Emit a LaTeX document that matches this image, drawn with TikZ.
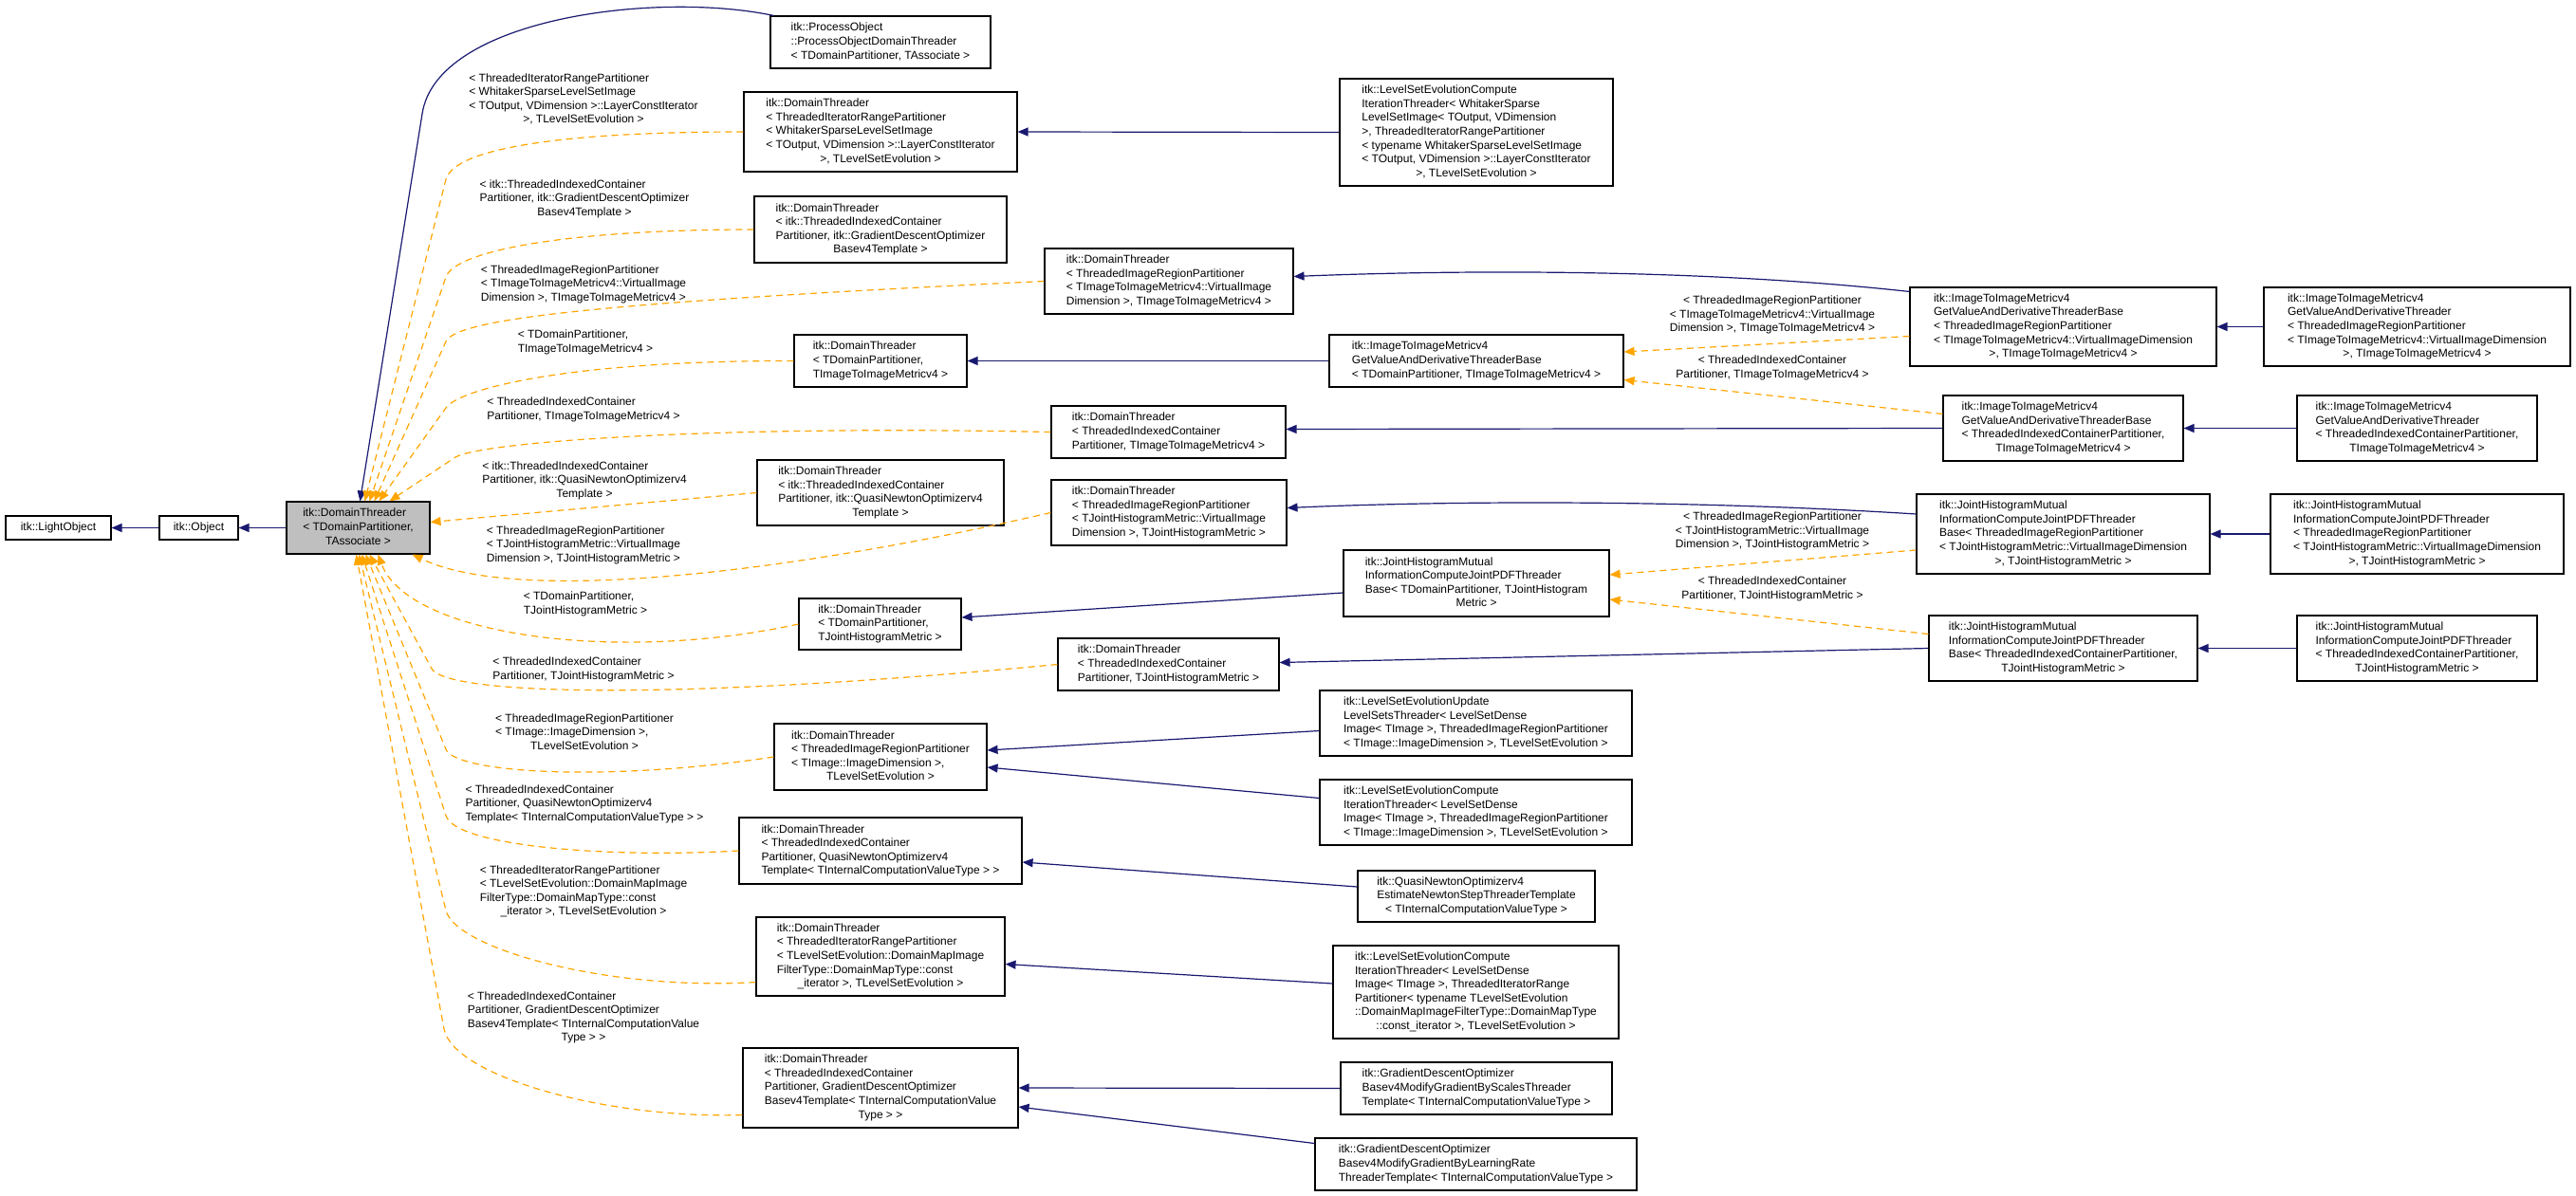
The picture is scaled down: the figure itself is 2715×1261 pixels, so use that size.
\documentclass[tikz,border=0pt]{standalone}
\usepackage{fontspec}
\setmainfont{Liberation Sans}
\usetikzlibrary{arrows.meta,calc}
\definecolor{navy}{RGB}{25,25,112}
\definecolor{orng}{RGB}{255,165,0}
\definecolor{dtgray}{RGB}{191,191,191}
\newcommand\txtb[1]{\begin{tabular}{@{}l@{}}#1\end{tabular}}
\newcommand\cln[1]{\multicolumn{1}{@{}c@{}}{#1}}
\newcommand\bx[7][]{%
  \pgfmathsetmacro\bxw{#5-#3}\pgfmathsetmacro\bxh{#6-#4}%
  \pgfmathsetmacro\bxx{(#3+#5)/2}\pgfmathsetmacro\bxy{(#4+#6)/2}%
  \node[box,#1,minimum width=\bxw pt,minimum height=\bxh pt] (#2) at (\bxx,\bxy) {\txtb{#7}};}
\begin{document}
\begin{tikzpicture}[x=1pt,y=-1pt,
  every node/.style={font=\fontsize{12}{14.6}\selectfont},
  box/.style={draw=black,line width=1.1pt,fill=white,inner sep=0pt,rectangle},
  lab/.style={inner sep=0pt},
  inh/.style={draw=navy,line width=1.2pt,-{Triangle[length=11pt,width=9pt]}},
  tpl/.style={draw=orng,line width=1.2pt,dash pattern=on 7pt off 5pt,-{Triangle[length=11pt,width=9pt]}}]
\useasboundingbox (0,0) rectangle (2715,1261);
% nodes
\bx{lo}{6}{544}{117}{569}{itk::LightObject}
\bx{ob}{168}{544}{251}{569}{itk::Object}
\bx[fill=dtgray]{dt}{302}{529}{453}{584}{itk::DomainThreader\\< TDomainPartitioner,\\\cln{TAssociate >}}
\bx{po}{812}{17}{1044}{72}{itk::ProcessObject\\::ProcessObjectDomainThreader\\< TDomainPartitioner, TAssociate >}
\bx{b1}{784}{97}{1072}{181}{itk::DomainThreader\\< ThreadedIteratorRangePartitioner\\< WhitakerSparseLevelSetImage\\< TOutput, VDimension >::LayerConstIterator\\\cln{>, TLevelSetEvolution >}}
\bx{b2}{795}{207}{1061}{277}{itk::DomainThreader\\< itk::ThreadedIndexedContainer\\Partitioner, itk::GradientDescentOptimizer\\\cln{Basev4Template >}}
\bx{b3}{1101}{262}{1363}{331}{itk::DomainThreader\\< ThreadedImageRegionPartitioner\\< TImageToImageMetricv4::VirtualImage\\Dimension >, TImageToImageMetricv4 >}
\bx{b4}{837}{353}{1019}{408}{itk::DomainThreader\\< TDomainPartitioner,\\\cln{TImageToImageMetricv4 >}}
\bx{b5}{1108}{428}{1355}{483}{itk::DomainThreader\\< ThreadedIndexedContainer\\Partitioner, TImageToImageMetricv4 >}
\bx{b6}{798}{485}{1058}{554}{itk::DomainThreader\\< itk::ThreadedIndexedContainer\\Partitioner, itk::QuasiNewtonOptimizerv4\\\cln{Template >}}
\bx{b7}{1108}{506}{1356}{575}{itk::DomainThreader\\< ThreadedImageRegionPartitioner\\< TJointHistogramMetric::VirtualImage\\Dimension >, TJointHistogramMetric >}
\bx{b8}{842}{631}{1013}{685}{itk::DomainThreader\\< TDomainPartitioner,\\\cln{TJointHistogramMetric >}}
\bx{b9}{1115}{673}{1348}{728}{itk::DomainThreader\\< ThreadedIndexedContainer\\Partitioner, TJointHistogramMetric >}
\bx{b10}{816}{763}{1040}{833}{itk::DomainThreader\\< ThreadedImageRegionPartitioner\\< TImage::ImageDimension >,\\\cln{TLevelSetEvolution >}}
\bx{b11}{779}{862}{1077}{932}{itk::DomainThreader\\< ThreadedIndexedContainer\\Partitioner, QuasiNewtonOptimizerv4\\Template< TInternalComputationValueType > >}
\bx{b12}{797}{967}{1059}{1050}{itk::DomainThreader\\< ThreadedIteratorRangePartitioner\\< TLevelSetEvolution::DomainMapImage\\FilterType::DomainMapType::const\\\cln{\_iterator >, TLevelSetEvolution >}}
\bx{b13}{783}{1105}{1073}{1189}{itk::DomainThreader\\< ThreadedIndexedContainer\\Partitioner, GradientDescentOptimizer\\Basev4Template< TInternalComputationValue\\\cln{Type > >}}
\bx{w}{1412}{83}{1700}{196}{itk::LevelSetEvolutionCompute\\IterationThreader< WhitakerSparse\\LevelSetImage< TOutput, VDimension\\ >, ThreadedIteratorRangePartitioner\\< typename WhitakerSparseLevelSetImage\\< TOutput, VDimension >::LayerConstIterator\\\cln{>, TLevelSetEvolution >}}
\bx{itb1}{1401}{353}{1711}{408}{itk::ImageToImageMetricv4\\GetValueAndDerivativeThreaderBase\\< TDomainPartitioner, TImageToImageMetricv4 >}
\bx{jb1}{1416}{580}{1696}{650}{itk::JointHistogramMutual\\InformationComputeJointPDFThreader\\Base< TDomainPartitioner, TJointHistogram\\\cln{Metric >}}
\bx{lu}{1391}{728}{1720}{797}{itk::LevelSetEvolutionUpdate\\LevelSetsThreader< LevelSetDense\\Image< TImage >, ThreadedImageRegionPartitioner\\< TImage::ImageDimension >, TLevelSetEvolution >}
\bx{lc}{1391}{822}{1720}{891}{itk::LevelSetEvolutionCompute\\IterationThreader< LevelSetDense\\Image< TImage >, ThreadedImageRegionPartitioner\\< TImage::ImageDimension >, TLevelSetEvolution >}
\bx{qn}{1431}{918}{1681}{972}{itk::QuasiNewtonOptimizerv4\\EstimateNewtonStepThreaderTemplate\\\cln{< TInternalComputationValueType >}}
\bx{lr}{1405}{997}{1706}{1095}{itk::LevelSetEvolutionCompute\\IterationThreader< LevelSetDense\\Image< TImage >, ThreadedIteratorRange\\Partitioner< typename TLevelSetEvolution\\::DomainMapImageFilterType::DomainMapType\\\cln{::const\_iterator >, TLevelSetEvolution >}}
\bx{gs}{1413}{1120}{1699}{1175}{itk::GradientDescentOptimizer\\Basev4ModifyGradientByScalesThreader\\Template< TInternalComputationValueType >}
\bx{gl}{1386}{1200}{1725}{1255}{itk::GradientDescentOptimizer\\Basev4ModifyGradientByLearningRate\\ThreaderTemplate< TInternalComputationValueType >}
\bx{itb2}{2013}{303}{2336}{386}{itk::ImageToImageMetricv4\\GetValueAndDerivativeThreaderBase\\< ThreadedImageRegionPartitioner\\< TImageToImageMetricv4::VirtualImageDimension\\\cln{>, TImageToImageMetricv4 >}}
\bx{itt2}{2386}{303}{2709}{386}{itk::ImageToImageMetricv4\\GetValueAndDerivativeThreader\\< ThreadedImageRegionPartitioner\\< TImageToImageMetricv4::VirtualImageDimension\\\cln{>, TImageToImageMetricv4 >}}
\bx{itb3}{2048}{417}{2301}{486}{itk::ImageToImageMetricv4\\GetValueAndDerivativeThreaderBase\\< ThreadedIndexedContainerPartitioner,\\\cln{TImageToImageMetricv4 >}}
\bx{itt3}{2421}{417}{2674}{486}{itk::ImageToImageMetricv4\\GetValueAndDerivativeThreader\\< ThreadedIndexedContainerPartitioner,\\\cln{TImageToImageMetricv4 >}}
\bx{jb2}{2020}{521}{2329}{605}{itk::JointHistogramMutual\\InformationComputeJointPDFThreader\\Base< ThreadedImageRegionPartitioner\\< TJointHistogramMetric::VirtualImageDimension\\\cln{>, TJointHistogramMetric >}}
\bx{jt2}{2393}{521}{2702}{605}{itk::JointHistogramMutual\\InformationComputeJointPDFThreader\\< ThreadedImageRegionPartitioner\\< TJointHistogramMetric::VirtualImageDimension\\\cln{>, TJointHistogramMetric >}}
\bx{jb3}{2033}{649}{2316}{718}{itk::JointHistogramMutual\\InformationComputeJointPDFThreader\\Base< ThreadedIndexedContainerPartitioner,\\\cln{TJointHistogramMetric >}}
\bx{jt3}{2421}{649}{2674}{718}{itk::JointHistogramMutual\\InformationComputeJointPDFThreader\\< ThreadedIndexedContainerPartitioner,\\\cln{TJointHistogramMetric >}}
% labels
\node[lab] (l1) at (615,105) {\txtb{< ThreadedIteratorRangePartitioner\\< WhitakerSparseLevelSetImage\\< TOutput, VDimension >::LayerConstIterator\\\cln{>, TLevelSetEvolution >}}};
\node[lab] (l2) at (616,210) {\txtb{< itk::ThreadedIndexedContainer\\Partitioner, itk::GradientDescentOptimizer\\\cln{Basev4Template >}}};
\node[lab] (l3) at (615,300) {\txtb{< ThreadedImageRegionPartitioner\\< TImageToImageMetricv4::VirtualImage\\Dimension >, TImageToImageMetricv4 >}};
\node[lab] (l4) at (617,361) {\txtb{< TDomainPartitioner,\\TImageToImageMetricv4 >}};
\node[lab] (l5) at (615,432) {\txtb{< ThreadedIndexedContainer\\Partitioner, TImageToImageMetricv4 >}};
\node[lab] (l6) at (616,507) {\txtb{< itk::ThreadedIndexedContainer\\Partitioner, itk::QuasiNewtonOptimizerv4\\\cln{Template >}}};
\node[lab] (l7) at (615,575) {\txtb{< ThreadedImageRegionPartitioner\\< TJointHistogramMetric::VirtualImage\\Dimension >, TJointHistogramMetric >}};
\node[lab] (l8) at (617,637) {\txtb{< TDomainPartitioner,\\TJointHistogramMetric >}};
\node[lab] (l9) at (615,706) {\txtb{< ThreadedIndexedContainer\\Partitioner, TJointHistogramMetric >}};
\node[lab] (l10) at (616,773) {\txtb{< ThreadedImageRegionPartitioner\\< TImage::ImageDimension >,\\\cln{TLevelSetEvolution >}}};
\node[lab] (l11) at (616,848) {\txtb{< ThreadedIndexedContainer\\Partitioner, QuasiNewtonOptimizerv4\\Template< TInternalComputationValueType > >}};
\node[lab] (l12) at (615,940) {\txtb{< ThreadedIteratorRangePartitioner\\< TLevelSetEvolution::DomainMapImage\\FilterType::DomainMapType::const\\\cln{\_iterator >, TLevelSetEvolution >}}};
\node[lab] (l13) at (615,1073) {\txtb{< ThreadedIndexedContainer\\Partitioner, GradientDescentOptimizer\\Basev4Template< TInternalComputationValue\\\cln{Type > >}}};
\node[lab,align=center] (r1) at (1868,332) {< ThreadedImageRegionPartitioner\\< TImageToImageMetricv4::VirtualImage\\Dimension >, TImageToImageMetricv4 >};
\node[lab,align=center] (r2) at (1868,388) {< ThreadedIndexedContainer\\Partitioner, TImageToImageMetricv4 >};
\node[lab,align=center] (r3) at (1868,560) {< ThreadedImageRegionPartitioner\\< TJointHistogramMetric::VirtualImage\\Dimension >, TJointHistogramMetric >};
\node[lab,align=center] (r4) at (1868,621) {< ThreadedIndexedContainer\\Partitioner, TJointHistogramMetric >};
% navy inheritance
\draw[inh] (ob.west) -- (lo.east);
\draw[inh] (dt.west) -- (ob.east);
\draw[inh] ($(po.north west)+(4,0)$) .. controls (690,-10) and (460,20) .. (445,120) -- ($(dt.north west)+(78,0)$);
\draw[inh] (w.west) -- (b1.east);
\draw[inh] ($(itb2.north west)+(0,5)$) .. controls (1800,284) and (1550,284) .. ($(b3.east)+(0,-5)$);
\draw[inh] (itb1.west) -- (b4.east);
\draw[inh] (itb3.west) -- ($(b5.east)+(0,-3)$);
\draw[inh] ($(jb2.west)+(0,-21)$) .. controls (1800,528) and (1550,527) .. ($(b7.east)+(0,-5)$);
\draw[inh] ($(jb1.west)+(0,10)$) -- ($(b8.east)+(0,-7)$);
\draw[inh] (jb3.west) -- ($(b9.east)+(0,-2)$);
\draw[inh] ($(lu.west)+(0,8)$) -- ($(b10.east)+(0,-7)$);
\draw[inh] ($(lc.west)+(0,-15)$) -- ($(b10.east)+(0,11)$);
\draw[inh] ($(qn.west)+(0,-10)$) -- ($(b11.east)+(0,12)$);
\draw[inh] ($(lr.west)+(0,-9)$) -- ($(b12.east)+(0,8)$);
\draw[inh] (gs.west) -- (b13.east);
\draw[inh] ($(gl.west)+(0,-22)$) -- ($(b13.east)+(0,20)$);
\draw[inh] (itt2.west) -- (itb2.east);
\draw[inh] (itt3.west) -- (itb3.east);
\draw[inh] (jt2.west) -- (jb2.east);
\draw[inh] (jt3.west) -- (jb3.east);
% orange template edges to DomainThreader
\draw[tpl] (b1.west) .. controls (600,139) and (480,155) .. (470,189) -- ($(dt.north west)+(83,0)$);
\draw[tpl] (b2.west) .. controls (600,242) and (480,264) .. (470,292) -- ($(dt.north west)+(88,0)$);
\draw[tpl] (b3.west) .. controls (650,318) and (481,335) .. (470,360) -- ($(dt.north west)+(93,0)$);
\draw[tpl] (b4.west) .. controls (600,380) and (484,410) .. (470,430) -- ($(dt.north west)+(98,0)$);
\draw[tpl] (b5.west) .. controls (750,448) and (508,466) .. (480,482) -- ($(dt.north west)+(109,0)$);
\draw[tpl] (b6.west) -- ($(dt.east)+(0,-6)$);
\draw[tpl] (b7.west) .. controls (850,600) and (550,640) .. ($(dt.south east)+(-19,0)$);
\draw[tpl] (b8.west) .. controls (650,700) and (430,670) .. ($(dt.south west)+(97,0)$);
\draw[tpl] (b9.west) .. controls (700,740) and (470,732) .. (455,705) -- ($(dt.south west)+(88,0)$);
\draw[tpl] (b10.west) .. controls (640,825) and (480,815) .. (470,790) -- ($(dt.south west)+(84,0)$);
\draw[tpl] (b11.west) .. controls (640,905) and (480,892) .. (470,860) -- ($(dt.south west)+(80,0)$);
\draw[tpl] ($(b12.south west)+(0,-15)$) .. controls (640,1045) and (480,1000) .. (470,960) -- ($(dt.south west)+(77,0)$);
\draw[tpl] ($(b13.south west)+(0,-14)$) .. controls (640,1180) and (478,1135) .. (468,1085) -- ($(dt.south west)+(74,0)$);
% orange right
\draw[tpl] ($(itb2.west)+(0,10)$) -- ($(itb1.east)+(0,-9.5)$);
\draw[tpl] ($(itb3.west)+(0,-15)$) -- ($(itb1.east)+(0,20)$);
\draw[tpl] ($(jb2.west)+(0,17)$) -- ($(jb1.east)+(0,-9)$);
\draw[tpl] ($(jb3.west)+(0,-15)$) -- ($(jb1.east)+(0,17)$);
\end{tikzpicture}
\end{document}
